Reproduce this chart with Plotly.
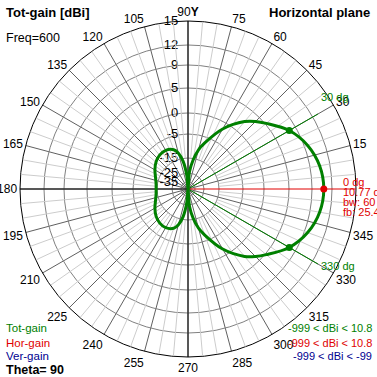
import numpy as np
import plotly.graph_objects as go

# ---- data ----
angles_deg = [0, 10, 20, 30, 40, 45, 50, 60, 70, 75, 80, 85, 90, 95, 100, 105, 110,
              120, 130, 140, 150, 160, 170, 180]
tot_gain = [10.77, 10.45, 9.5, 7.77, 5.2, 3.9, 2.4, -1.6, -7.5, -11.0, -16.0, -24.0, -45.0,
            -28.0, -17.0, -12.5, -10.5, -9.3, -9.5, -10.5, -12.0, -13.5, -14.4, -14.63]
ring_labels = [15, 12, 9, 5, 0, -5, -15, -25, -35]
angle_ticks = list(range(15, 360, 15))
max_angle = 0
max_gain = 10.77
bw_angles = [30, 330]
bw_gain = 7.77

# ---- scale: gain (dBi) -> radius of the chart (log scale of the original program) ----
scale_g = [-45, -35, -25, -15, -5, 0, 5, 9, 12, 15]
scale_r = [0, 7, 16, 31, 55, 76, 101, 124, 144, 168]
RMAX = scale_r[-1]


def rad(g):
    return np.interp(g, scale_g, scale_r)


# full pattern (symmetric about 0-180)
th = angles_deg + [360 - a for a in angles_deg[-2::-1]]
gg = tot_gain + tot_gain[-2::-1]

GREEN = "#008000"
RED = "#e00000"
NAVY = "#000090"
FONT = "Liberation Sans Narrow, Liberation Sans"
NB = "\u00a0"

fig = go.Figure()

# light radial grid lines every 5 degrees
lr, lt = [], []
for a in range(0, 360, 5):
    if a % 15:
        lr += [rad(-15), RMAX, None]
        lt += [a, a, None]
fig.add_trace(go.Scatterpolar(r=lr, theta=lt, mode="lines",
                              line=dict(color="#cccccc", width=1), hoverinfo="skip"))
# main axes
fig.add_trace(go.Scatterpolar(r=[RMAX, 0, RMAX, None, RMAX, 0], theta=[90, 90, 270, None, 180, 180],
                              mode="lines", line=dict(color="black", width=1), hoverinfo="skip"))
fig.add_trace(go.Scatterpolar(r=[0, RMAX], theta=[0, 0], mode="lines",
                              line=dict(color=RED, width=1), hoverinfo="skip"))
# beamwidth lines
fig.add_trace(go.Scatterpolar(r=[0, 150, None, 0, 150], theta=[bw_angles[0], bw_angles[0], None, bw_angles[1], bw_angles[1]],
                              mode="lines", line=dict(color=GREEN, width=1), hoverinfo="skip"))
# pattern
fig.add_trace(go.Scatterpolar(r=rad(np.array(gg)), theta=th, mode="lines",
                              line=dict(color=GREEN, width=3, shape="spline"), hoverinfo="skip"))
fig.add_trace(go.Scatterpolar(r=[rad(bw_gain)] * 2, theta=bw_angles, mode="markers",
                              marker=dict(color=GREEN, size=7), hoverinfo="skip"))
fig.add_trace(go.Scatterpolar(r=[rad(max_gain)], theta=[max_angle], mode="markers",
                              marker=dict(color=RED, size=7), hoverinfo="skip"))

ticktext = [("90<b>Y</b>" if a == 90 else str(a)) for a in angle_ticks]
c = 188 / 377
h = RMAX / 377
fig.update_layout(
    width=377, height=377, margin=dict(l=0, r=0, t=0, b=0),
    paper_bgcolor="white", showlegend=False,
    font=dict(family=FONT, size=13, color="black"),
    polar=dict(
        domain=dict(x=[c - h, c + h], y=[c - h, c + h]),
        bgcolor="white",
        radialaxis=dict(range=[0, RMAX], tickvals=[rad(v) for v in ring_labels],
                        ticktext=[str(v) + NB * 2 for v in ring_labels], angle=90, tickangle=90,
                        side="counterclockwise", showline=False, ticks="",
                        gridcolor="#808080", gridwidth=1, layer="below traces",
                        tickfont=dict(size=13, color="black")),
        angularaxis=dict(direction="counterclockwise", rotation=0, tickvals=angle_ticks,
                         ticktext=ticktext, ticks="", showline=True, linecolor="black",
                         linewidth=1, gridcolor="#606060", gridwidth=1, layer="below traces",
                         tickfont=dict(size=12, color="black")),
    ),
)


def txt(x, y, s, color="black", bold=False, anchor="left", size=13):
    fig.add_annotation(x=x / 377, y=1 - y / 377, xref="paper", yref="paper", text=(f"<b>{s}</b>" if bold else s),
                       showarrow=False, xanchor=anchor, yanchor="middle",
                       font=dict(family=FONT, size=size, color=color))


txt(4, 12, "Tot-gain [dBi]", bold=True)
txt(372, 12, "Horizontal plane", bold=True, anchor="right")
txt(4, 38, "Freq=600", size=12.5)
txt(4, 328, "Tot-gain", GREEN, size=11.5)
txt(4, 343, "Hor-gain", RED, size=11.5)
txt(4, 356, "Ver-gain", NAVY, size=11.5)
txt(4, 370, "Theta= 90", bold=True, size=12.5)
txt(374, 328, "-999 &lt; dBi &lt; 10.8", GREEN, anchor="right", size=11)
txt(374, 343, "-999 &lt; dBi &lt; 10.8", RED, anchor="right", size=11)
txt(374, 356, "-999 &lt; dBi &lt; -99", NAVY, anchor="right", size=11)
txt(341, 182, "0 dg", RED, size=11)
txt(341, 192, "10.77 dBi", RED, size=11)
txt(341, 202, "bw: 60 dg", RED, size=11)
txt(341, 212, "fb: 25.4 dB", RED, size=11)
txt(319, 97, "30 dg", GREEN, size=11)
txt(319, 266, "330 dg", GREEN, size=11)

fig.write_html("out.html", config={"displayModeBar": False},
               post_script="document.body.style.margin='0';document.body.style.overflow='hidden';")
